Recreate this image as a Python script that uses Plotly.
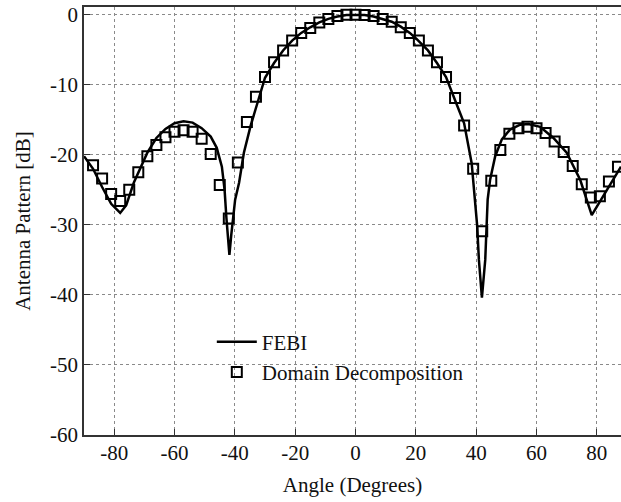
import plotly.graph_objects as go

# FEBI (solid line)
febi_angle = [-90, -87, -84, -81, -78, -76, -73.5, -71, -69, -66, -63, -60, -57, -54, -51, -48, -46,
              -44.3, -43.4, -42.8, -42.3, -41.8, -41.2, -40.7, -39.9, -38.6, -37, -34.8, -32.6,
              -30, -27, -24, -21, -18, -15, -12, -9, -6, -3, 0, 3, 6, 9, 12, 15, 18, 20.3, 24, 27, 30,
              33, 36, 38.5, 39.6, 40.3, 40.9, 41.9, 43.0, 43.4, 43.8, 44.6, 46.3, 48.5, 51.2, 54.6,
              57.3, 61.2, 65.6, 70, 74.5, 78.3, 82.2, 85.5, 88]
febi_db = [-20.2, -22.0, -24.6, -27.0, -28.3, -27.2, -24.0, -21.6, -19.7, -17.6, -16.3, -15.5, -15.2,
           -15.4, -16.2, -17.4, -19.0,
           -21.7, -25.0, -29.0, -32.0, -34.3, -31.5, -29.3, -26.4, -24.0, -19.7, -15.9, -12.6,
           -9.0, -6.9, -5.1, -3.7, -2.6, -1.8, -1.1, -0.6, -0.25, -0.05, 0.0, -0.05, -0.25, -0.6,
           -1.0, -1.7, -2.6, -3.5, -5.1, -6.9, -8.9,
           -12.2, -15.5, -21.2, -26.4, -30.0, -35.0, -40.4, -35.0, -30.0, -26.4, -23.6, -20.2,
           -17.8, -16.4, -15.7,
           -15.6, -16.0, -17.6, -19.7, -23.6, -28.6, -25.9, -23.6, -21.7]

# Domain Decomposition (open squares)
dd_angle = [-87, -84, -81, -78, -75, -72, -69, -66, -63, -60, -57, -54, -51, -48, -45, -42, -39, -36,
            -33, -30, -27, -24, -21, -18, -15, -12, -9, -6, -3, 0, 3, 6, 9, 12, 15, 18, 21, 24, 27,
            30, 33, 36, 39, 42, 45, 48, 51, 54, 57, 60, 63, 66, 69, 72, 75, 78, 81, 84, 87]
dd_db = [-21.5, -23.4, -25.6, -26.6, -25.0, -22.5, -20.2, -18.6, -17.5, -16.7, -16.5, -16.7, -17.7,
         -19.9, -24.3, -29.1, -21.1, -15.3, -11.7, -8.9, -6.8, -5.1, -3.7, -2.6, -1.9, -1.1, -0.6,
         -0.2, 0.0, 0.0, -0.05, -0.2, -0.6, -1.0, -1.8, -2.6, -3.7, -5.1, -6.8, -8.9, -11.9, -15.8,
         -22.0, -30.9, -23.7, -19.3, -17.0, -16.2, -16.0, -16.2, -16.9, -18.1, -19.6, -21.6, -24.2,
         -26.1, -25.9, -23.8, -21.7]

x_ticks = [-80, -60, -40, -20, 0, 20, 40, 60, 80]
y_ticks = [0, -10, -20, -30, -40, -50, -60]

FONT = "Liberation Serif"

fig = go.Figure()
fig.add_trace(go.Scatter(x=febi_angle, y=febi_db, mode="lines", name="FEBI",
                         line=dict(color="black", width=2.5), legendgroup="a"))
fig.add_trace(go.Scatter(x=dd_angle, y=dd_db, mode="markers", name="Domain Decomposition",
                         marker=dict(symbol="square-open", size=10, color="black",
                                     line=dict(width=2, color="black")), legendgroup="b"))

axis_common = dict(showgrid=True, gridcolor="#8a8a8a", griddash="dot", gridwidth=1,
                   showline=True, linecolor="#333333", linewidth=1.5,
                   ticks="inside", ticklen=6, tickcolor="#333333", tickwidth=1,
                   zeroline=False, automargin=False,
                   tickfont=dict(family=FONT, size=21, color="#111111"))

fig.update_layout(
    width=621, height=502,
    margin=dict(l=84, r=0, t=7, b=67),
    paper_bgcolor="white", plot_bgcolor="white",
    xaxis=dict(range=[-90, 88], tickvals=x_ticks, ticktext=[str(v) for v in x_ticks],
               mirror=True, ticklabelstandoff=-2,
               title=dict(text="Angle (Degrees)", font=dict(family=FONT, size=21, color="#111111"),
                          standoff=13), **axis_common),
    yaxis=dict(range=[-60, 1.1], tickvals=y_ticks, ticktext=[str(v) for v in y_ticks],
               mirror=False, ticklabelstandoff=0,
               title=dict(text="Antenna Pattern [dB]", font=dict(family=FONT, size=21, color="#111111"),
                          standoff=14), **axis_common),
    showlegend=True,
    legend=dict(x=0.238, y=0.265, xanchor="left", yanchor="top", bgcolor="rgba(0,0,0,0)",
                font=dict(family=FONT, size=21, color="#111111"), traceorder="grouped",
                tracegroupgap=0, itemwidth=40),
)

fig.write_html("out.html", config={"displayModeBar": False},
               post_script="document.body.style.margin='0';")
